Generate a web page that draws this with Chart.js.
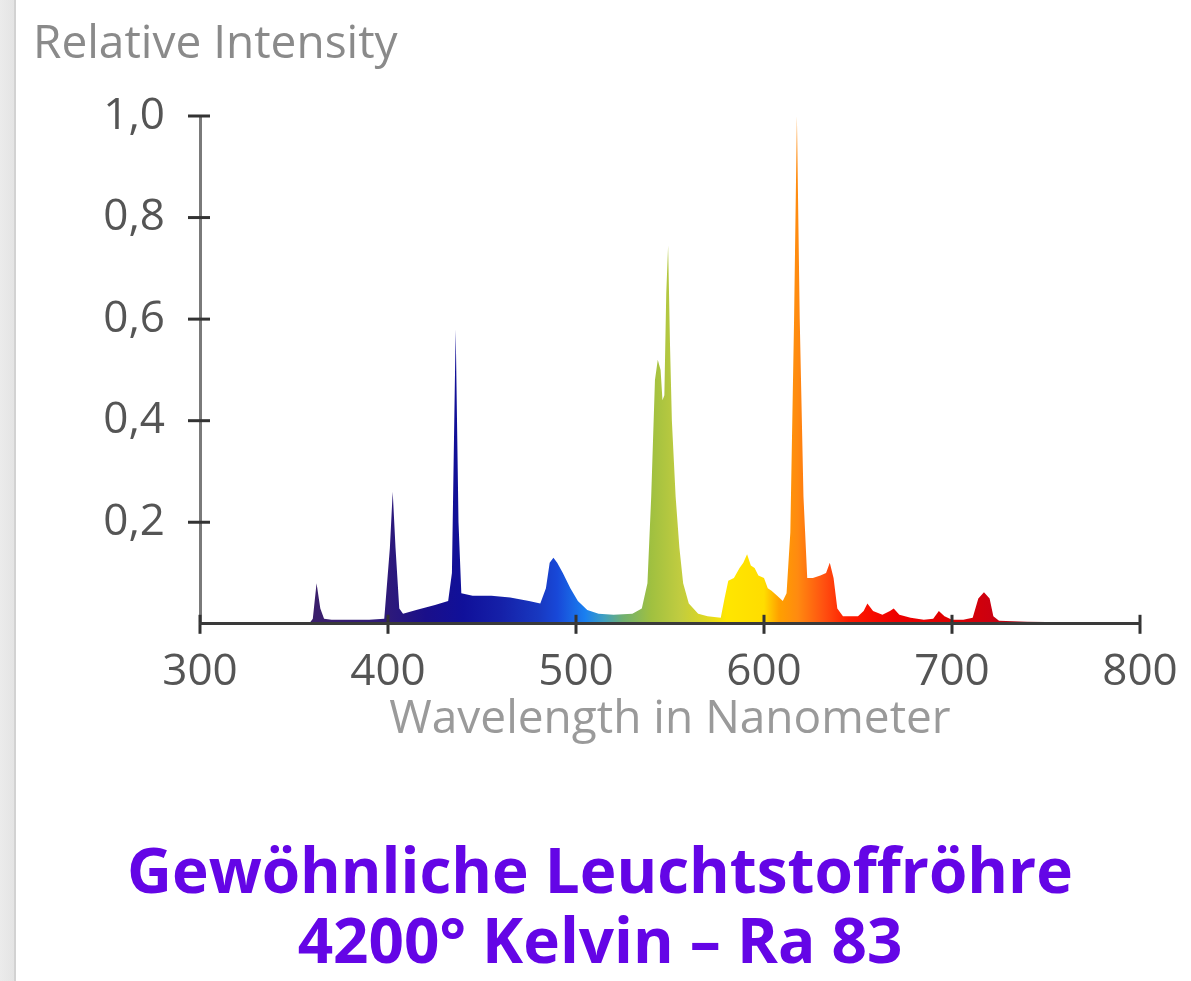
<!DOCTYPE html>
<html>
<head>
<meta charset="utf-8">
<script src="https://cdn.jsdelivr.net/npm/chart.js@4.4.1/dist/chart.umd.min.js"></script>
<style>
  html, body { margin: 0; padding: 0; }
  body {
    width: 1191px; height: 981px; overflow: hidden;
    background: linear-gradient(to right, #ebebeb 0, #e4e4e4 14px, #d2d2d2 14px, #d2d2d2 16px, #ffffff 16px);
  }
  #wrap { position: relative; width: 1191px; height: 981px; }
</style>
</head>
<body>
<div id="wrap"><canvas id="spectrum" width="1191" height="981"></canvas></div>
<script>
// Wavelength (nm) and relative intensity
const wavelengths = [
  358, 360, 362, 364, 366, 370, 380, 390, 398, 401, 402.5, 404, 406, 408,
  415, 425, 432, 434, 436, 437.5, 439, 445, 455, 465, 475, 481, 484, 486,
  488, 490, 493, 497, 501, 506, 512, 520, 530, 535, 538, 540, 542, 543.5,
  545, 546, 547, 548, 549, 550, 551, 553, 555, 557, 560, 565, 570, 577,
  579, 581, 584, 587, 589, 591, 593, 595, 597, 600, 602, 604, 607, 610,
  612, 614, 616, 617.5, 619, 621, 623, 626, 630, 633, 635, 637, 639, 642,
  650, 653, 655, 658, 663, 667, 669, 672, 678, 685, 690, 693, 696, 700,
  706, 711, 714, 717, 720, 722, 725, 740, 760, 780, 800
];
const intensity = [
  0, 0.01, 0.08, 0.03, 0.01, 0.008, 0.008, 0.008, 0.01, 0.15, 0.26, 0.15, 0.03, 0.02,
  0.027, 0.037, 0.045, 0.1, 0.58, 0.2, 0.06, 0.055, 0.055, 0.052, 0.045, 0.04, 0.07, 0.12,
  0.13, 0.12, 0.1, 0.07, 0.045, 0.027, 0.02, 0.018, 0.02, 0.03, 0.08, 0.25, 0.48, 0.52,
  0.5, 0.44, 0.45, 0.65, 0.745, 0.55, 0.4, 0.25, 0.15, 0.08, 0.04, 0.02, 0.015, 0.012,
  0.05, 0.085, 0.09, 0.11, 0.12, 0.137, 0.115, 0.11, 0.095, 0.09, 0.07, 0.065, 0.055, 0.045,
  0.06, 0.18, 0.6, 1.0, 0.6, 0.25, 0.09, 0.09, 0.095, 0.1, 0.12, 0.09, 0.03, 0.015,
  0.015, 0.025, 0.04, 0.025, 0.018, 0.025, 0.03, 0.018, 0.012, 0.008, 0.01, 0.025, 0.015, 0.008,
  0.008, 0.012, 0.05, 0.062, 0.05, 0.015, 0.006, 0.004, 0.003, 0.002, 0.002
];

// axis ticks and labels
const xTicks = [300, 400, 500, 600, 700, 800];
const yTicks = [0, 0.2, 0.4, 0.6, 0.8, 1.0];
const yTickLabels = ['', '0,2', '0,4', '0,6', '0,8', '1,0'];

// spectrum colours along the wavelength axis
const stopNm = [360, 400, 420, 440, 460, 480, 490, 505, 515, 525, 540, 555, 570, 580, 600, 608, 618, 632, 645, 670, 700, 720, 760, 800];
const stopColor = ['#3b1f6b', '#2e1a7a', '#1a0f8a', '#10109a', '#1520a8', '#1838c0', '#1848d8', '#1a80f0', '#40a0c0', '#70b070',
  '#a0c040', '#c0cc40', '#e0d820', '#ffe600', '#ffdd00', '#ffa000', '#ff8a10', '#ff5010', '#ff1a00', '#ee0000',
  '#dd0000', '#cc0010', '#801020', '#401018'];

function spectrumFill(context) {
  const chart = context.chart;
  const area = chart.chartArea;
  if (!area) return '#2e1a7a';
  const x = chart.scales.x;
  const g = chart.ctx.createLinearGradient(area.left, 0, area.right, 0);
  const w = area.right - area.left;
  stopNm.forEach((nm, i) => {
    const pos = (x.getPixelForValue(nm) - area.left) / w;
    g.addColorStop(Math.min(1, Math.max(0, pos)), stopColor[i]);
  });
  return g;
}

// tick marks crossing the axes
const crossTicks = {
  id: 'crossTicks',
  afterDatasetsDraw(chart) {
    const ctx = chart.ctx;
    const xs = chart.scales.x, ys = chart.scales.y;
    const y0 = chart.chartArea.bottom, x0 = chart.chartArea.left;
    ctx.save();
    ctx.strokeStyle = '#333';
    ctx.lineWidth = 3;
    xs.ticks.forEach(t => {
      const px = xs.getPixelForValue(t.value);
      ctx.beginPath();
      ctx.moveTo(px, y0 - 9);
      ctx.lineTo(px, y0 + 10);
      ctx.stroke();
    });
    ys.ticks.forEach(t => {
      if (t.value === 0) return;
      const py = ys.getPixelForValue(t.value);
      ctx.beginPath();
      ctx.moveTo(x0 - 12, py);
      ctx.lineTo(x0 + 10, py);
      ctx.stroke();
    });
    ctx.restore();
  }
};

const points = wavelengths.map((nm, i) => ({ x: nm, y: intensity[i] }));

const chart = new Chart(document.getElementById('spectrum').getContext('2d'), {
  type: 'line',
  data: {
    datasets: [{
      data: points,
      fill: 'origin',
      backgroundColor: spectrumFill,
      borderWidth: 0,
      pointRadius: 0,
      tension: 0
    }]
  },
  options: {
    responsive: false,
    animation: false,
    events: [],
    layout: { padding: { left: 33, right: 24, top: 0, bottom: 0 } },
    plugins: {
      legend: { display: false },
      tooltip: { enabled: false },
      title: {
        display: true,
        text: 'Relative Intensity',
        align: 'start',
        color: '#8a8a8a',
        font: { family: 'Open Sans', size: 46, weight: 'normal', lineHeight: 1.2 },
        padding: { top: 17.6, bottom: 43.2 }
      },
      subtitle: {
        display: true,
        position: 'bottom',
        text: ['Gewöhnliche Leuchtstoffröhre', '4200° Kelvin – Ra 83'],
        color: '#6405e6',
        font: { family: 'Open Sans', size: 62, weight: 'bold', lineHeight: 1.129 },
        padding: { top: 93, bottom: 1 }
      }
    },
    scales: {
      x: {
        type: 'linear',
        min: 300,
        max: 800,
        afterBuildTicks: s => { s.ticks = xTicks.map(v => ({ value: v })); },
        afterFit: s => { s.paddingRight = 51; s.paddingLeft = 0; },
        grid: { display: false, tickLength: 0 },
        border: { display: true, color: '#3a3a3a', width: 3, z: 1 },
        ticks: {
          color: '#555',
          padding: 27,
          font: { family: 'Open Sans', size: 44, lineHeight: 1.0 },
          maxRotation: 0,
          callback: v => String(v)
        },
        title: {
          display: true,
          text: 'Wavelength in Nanometer',
          color: '#9a9a9a',
          font: { family: 'Open Sans', size: 46, lineHeight: 1.2 },
          padding: { top: -30, bottom: 0 }
        }
      },
      y: {
        min: 0,
        max: 1,
        afterBuildTicks: s => { s.ticks = yTicks.map(v => ({ value: v })); },
        afterFit: s => { s.width = 167; s.paddingTop = 0; s.paddingBottom = 0; },
        grid: { display: false, tickLength: 0 },
        border: { display: true, color: '#7a7a7a', width: 3 },
        ticks: {
          color: '#555',
          padding: 35,
          font: { family: 'Open Sans', size: 44 },
          callback: (v, i) => yTickLabels[yTicks.indexOf(v)]
        }
      }
    }
  },
  plugins: [crossTicks]
});
</script>
</body>
</html>
